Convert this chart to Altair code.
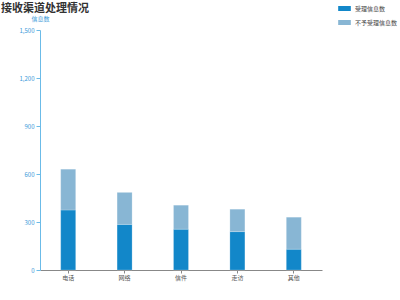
import altair as alt
import pandas as pd

categories = ["电话", "网络", "信件", "走访", "其他"]
accepted = [375, 285, 255, 240, 130]
rejected = [255, 200, 150, 140, 200]
series = ["受理信息数", "不予受理信息数"]
colors = ["#1287c9", "#88b6d4"]

rows = []
for c, a, r in zip(categories, accepted, rejected):
    rows.append({"渠道": c, "类型": series[0], "值": a, "序": 0})
    rows.append({"渠道": c, "类型": series[1], "值": r, "序": 1})
df = pd.DataFrame(rows)

FONT = "Noto Sans CJK SC"

chart = alt.Chart(df).mark_bar(size=15, stroke="white", strokeOpacity=0.35, strokeWidth=0.6).encode(
    x=alt.X("渠道:N", sort=categories, title=None,
            axis=alt.Axis(labelAngle=0, labelFontSize=6, labelColor="#555", domainColor="#888",
                          tickColor="#888", tickSize=3, labelFont=FONT, labelPadding=1)),
    y=alt.Y("值:Q", title="信息数", scale=alt.Scale(domain=[0, 1500]),
            axis=alt.Axis(values=[0, 300, 600, 900, 1200, 1500], format=",.0f", grid=False,
                          labelFontSize=6, labelColor="#3a9ad9", domainColor="#6bbbe8",
                          tickColor="#6bbbe8", tickSize=4, labelFont=FONT,
                          titleFont=FONT, titleFontSize=6, titleColor="#3a9ad9", titleFontWeight="normal",
                          titleAngle=0, titleX=0, titleY=-9, titleAlign="center")),
    color=alt.Color("类型:N", sort=series, scale=alt.Scale(domain=series, range=colors),
                    legend=alt.Legend(title=None, orient="none", legendX=298, legendY=-28,
                                      symbolType="M-1,-0.4H1V0.4H-1Z", symbolSize=160,
                                      symbolStrokeWidth=0, labelFontSize=6, labelFont=FONT,
                                      labelColor="#444", rowPadding=4, symbolOffset=0)),
    order=alt.Order("序:Q"),
).properties(
    width=282, height=240,
    title=alt.TitleParams("接收渠道处理情况", anchor="start", fontSize=11, font=FONT,
                          fontWeight="bold", color="#333", dx=-18, offset=0, dy=22.5,
                          baseline="bottom"),
    autosize=alt.AutoSizeParams(type="none"),
    padding={"left": 40, "top": 30, "right": 78, "bottom": 30},
).configure_view(stroke=None)

chart.save("out.html", embed_options={"renderer": "svg", "actions": False})
